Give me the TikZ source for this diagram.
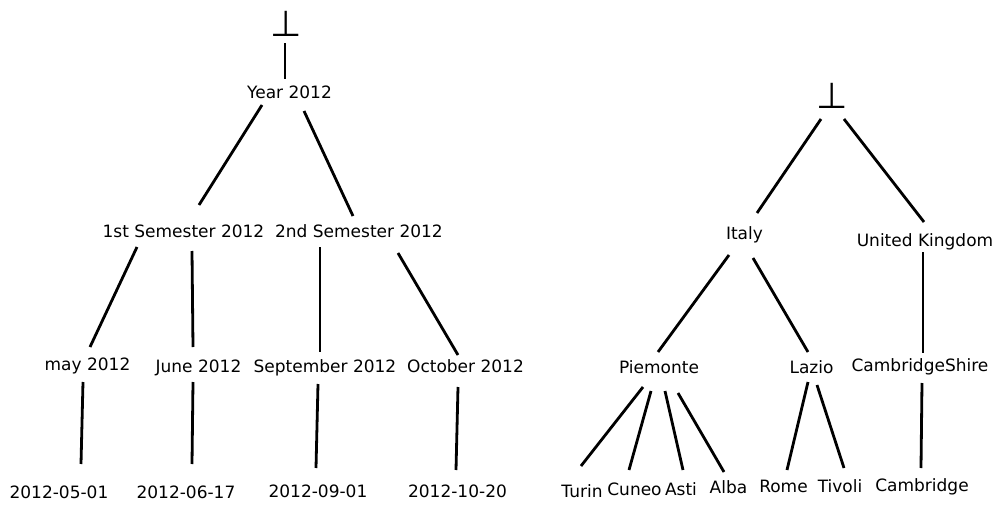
\documentclass[tikz,border=0pt]{standalone}
\usepackage{fontspec}
\setmainfont{DejaVu Sans}
\usetikzlibrary{positioning}

\tikzset{
  lbl/.style={font=\fontsize{17}{20}\selectfont, inner sep=0pt, anchor=base},
  tack/.style={font=\fontsize{36}{36}\selectfont, inner sep=0pt, anchor=base},
  link/.style={line width=2.8pt}
}

\begin{document}
\begin{tikzpicture}[x=1pt,y=-1pt]
    \useasboundingbox (0,0) rectangle (997,506);

    % time hierarchy
    \node[tack] (botT) at (286,36.5) {⊥};
    \node[lbl] (year) at (289.5,98) {Year 2012};
    \node[lbl] (sem1) at (183.5,237) {1st Semester 2012};
    \node[lbl] (sem2) at (359,237) {2nd Semester 2012};
    \node[lbl] (may) at (87.5,370) {may 2012};
    \node[lbl] (june) at (198.5,372) {June 2012};
    \node[lbl] (sep) at (325,372) {September 2012};
    \node[lbl] (oct) at (465.5,372) {October 2012};
    \node[lbl] (day1) at (59,498) {2012-05-01};
    \node[lbl] (day2) at (186,498) {2012-06-17};
    \node[lbl] (day3) at (318,497) {2012-09-01};
    \node[lbl] (day4) at (457.5,497) {2012-10-20};

    \draw[link] ([shift={(-1,6.5)}]botT.base) -- ([shift={(-4.5,-19)}]year.base);
    \draw[link] ([shift={(-27.5,7)}]year.base) -- ([shift={(15.5,-32)}]sem1.base);
    \draw[link] ([shift={(14.5,13)}]year.base) -- ([shift={(-6,-21)}]sem2.base);
    \draw[link] ([shift={(-46.5,10)}]sem1.base) -- ([shift={(2.5,-23)}]may.base);
    \draw[link] ([shift={(8.5,14)}]sem1.base) -- ([shift={(-5.5,-25)}]june.base);
    \draw[link] ([shift={(-39,10)}]sem2.base) -- ([shift={(-5,-20)}]sep.base);
    \draw[link] ([shift={(39,16)}]sem2.base) -- ([shift={(-7.5,-17)}]oct.base);
    \draw[link] ([shift={(-4.5,12)}]may.base) -- ([shift={(22,-34)}]day1.base);
    \draw[link] ([shift={(-5.5,10)}]june.base) -- ([shift={(6,-34)}]day2.base);
    \draw[link] ([shift={(-7,12)}]sep.base) -- ([shift={(-2,-29)}]day3.base);
    \draw[link] ([shift={(-7.5,15)}]oct.base) -- ([shift={(-1.5,-27)}]day4.base);

    % place hierarchy
    \node[tack] (botP) at (832.5,108.5) {⊥};
    \node[lbl] (italy) at (744.5,239) {Italy};
    \node[lbl] (uk) at (925,246) {United Kingdom};
    \node[lbl] (piem) at (659,373) {Piemonte};
    \node[lbl] (lazio) at (811.5,373) {Lazio};
    \node[lbl] (cshire) at (920,371) {CambridgeShire};
    \node[lbl] (turin) at (582,497) {Turin};
    \node[lbl] (cuneo) at (634.5,495) {Cuneo};
    \node[lbl] (asti) at (681,495) {Asti};
    \node[lbl] (alba) at (728.5,493) {Alba};
    \node[lbl] (rome) at (783.5,492) {Rome};
    \node[lbl] (tivoli) at (840,492) {Tivoli};
    \node[lbl] (camb) at (922,491) {Cambridge};

    \draw[link] ([shift={(-11.5,10.5)}]botP.base) -- ([shift={(12.5,-26)}]italy.base);
    \draw[link] ([shift={(11.5,10.5)}]botP.base) -- ([shift={(-1,-24)}]uk.base);
    \draw[link] ([shift={(-15.5,16)}]italy.base) -- ([shift={(-1,-21)}]piem.base);
    \draw[link] ([shift={(8.5,19)}]italy.base) -- ([shift={(-3.5,-21)}]lazio.base);
    \draw[link] ([shift={(-2,6)}]uk.base) -- ([shift={(3,-18)}]cshire.base);
    \draw[link] ([shift={(-16,14)}]piem.base) -- ([shift={(-1,-31)}]turin.base);
    \draw[link] ([shift={(-8,18)}]piem.base) -- ([shift={(-5.5,-25)}]cuneo.base);
    \draw[link] ([shift={(6,18)}]piem.base) -- ([shift={(2,-25)}]asti.base);
    \draw[link] ([shift={(19,20)}]piem.base) -- ([shift={(-4.5,-21)}]alba.base);
    \draw[link] ([shift={(-3.5,9)}]lazio.base) -- ([shift={(3.5,-22)}]rome.base);
    \draw[link] ([shift={(5.5,12)}]lazio.base) -- ([shift={(4,-24)}]tivoli.base);
    \draw[link] ([shift={(2,12)}]cshire.base) -- ([shift={(-1,-23)}]camb.base);
\end{tikzpicture}
\end{document}
